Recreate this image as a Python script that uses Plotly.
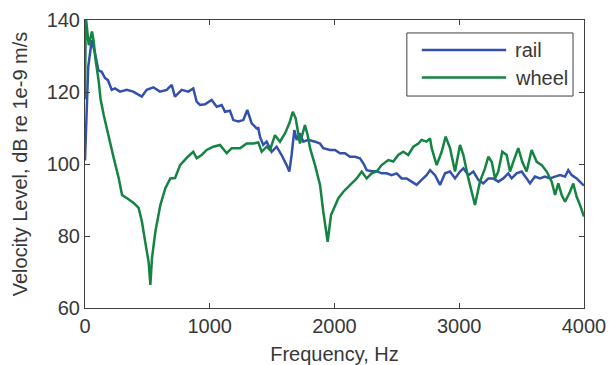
import plotly.graph_objects as go

# ---- data ----
rail_f = [0, 8, 26, 54, 80, 107, 134, 160, 184, 214, 240, 281, 334, 387, 455, 495, 548, 601,
          655, 695, 721, 775, 828, 868, 895, 922, 962, 1015, 1056, 1096, 1122, 1162, 1189,
          1229, 1269, 1301, 1336, 1376, 1389, 1403, 1429, 1456, 1496, 1536, 1576, 1616, 1638,
          1656, 1678, 1697, 1723, 1750, 1790, 1844, 1884, 1910, 1964, 2004, 2044, 2084, 2124,
          2164, 2204, 2231, 2258, 2298, 2338, 2378, 2418, 2458, 2498, 2538, 2578, 2618, 2658,
          2698, 2738, 2766, 2806, 2846, 2886, 2926, 2966, 3006, 3033, 3073, 3113, 3153, 3193,
          3233, 3273, 3313, 3353, 3393, 3420, 3460, 3500, 3540, 3567, 3607, 3647, 3687, 3727,
          3768, 3808, 3848, 3874, 3901, 3941, 3981, 4000]
rail_db = [101, 110, 127, 134.4, 130.8, 126, 125.6, 123.9, 123.3, 120.6, 121, 120.1, 120.6,
           120.1, 118.7, 120.6, 121.3, 120.1, 120.6, 122, 118.7, 120.6, 120.1, 121, 117.3,
           116.4, 116.6, 117.8, 115.9, 116.4, 114.5, 114.8, 112.2, 111.8, 112.2, 115, 111.3,
           109.9, 110, 107.5, 105.3, 106.2, 103.4, 104.8, 102.5, 99.7, 97.9, 102.5, 109.4,
           106.7, 108.5, 106.2, 106.7, 106.2, 105.7, 104.4, 103.9, 103.9, 103, 103, 102, 102,
           101.6, 100.2, 98.3, 98, 98, 97.4, 97.4, 96.9, 97.4, 96, 96, 95.1, 94.2, 95.6, 96.9,
           98.3, 96.9, 94.2, 97.4, 97.9, 96, 97.9, 98.8, 96.9, 97.9, 95.6, 94.6, 96, 96, 95.1,
           96, 97.4, 96, 97.4, 97.9, 96, 94.6, 96.5, 96, 96.5, 96, 96.5, 96.9, 96.5, 98.3,
           96.9, 96, 94.6, 94]

wheel_f = [0, 6, 30, 56, 70, 83, 110, 125, 150, 190, 230, 270, 297, 337, 390, 430, 457, 483,
           510, 524, 537, 564, 604, 644, 684, 722, 762, 815, 868, 895, 935, 975, 1029, 1082,
           1136, 1176, 1243, 1296, 1350, 1389, 1416, 1456, 1483, 1523, 1563, 1603, 1638, 1665,
           1689, 1723, 1763, 1785, 1804, 1844, 1884, 1910, 1945, 1972, 2004, 2031, 2071, 2124,
           2178, 2218, 2258, 2298, 2338, 2378, 2431, 2471, 2511, 2551, 2591, 2632, 2672, 2698,
           2738, 2766, 2779, 2819, 2859, 2891, 2926, 2966, 3006, 3033, 3073, 3126, 3166, 3206,
           3233, 3260, 3287, 3313, 3345, 3380, 3407, 3433, 3473, 3505, 3540, 3580, 3621, 3661,
           3701, 3741, 3768, 3794, 3821, 3848, 3888, 3914, 3941, 3968, 4000]
wheel_db = [118, 141, 133, 136.8, 134, 129.4, 122.9, 118, 113.6, 107.2, 101.7, 96.1, 91.4,
            90.5, 89.2, 87.8, 83.9, 78.3, 72.8, 66.4, 73.9, 81.2, 88.6, 93.3, 96.0, 96.1, 99.7,
            101.7, 103.4, 101.6, 102.5, 103.9, 104.8, 105.3, 103, 104.4, 104.4, 105.7, 105.7,
            106, 103.4, 104.8, 103.9, 108, 106.2, 108.5, 111.3, 114.5, 112.7, 105.7, 110.8,
            108, 104.4, 99.7, 94.2, 86.8, 78.4, 85.8, 88.1, 90.5, 92.3, 94.2, 96, 97.9, 96,
            97.4, 97.9, 99.7, 101.1, 100.7, 102.5, 103.4, 102.5, 104.8, 105.7, 106.7, 106.2,
            107.1, 104.4, 99.7, 103.4, 107.6, 104.4, 97.9, 105.3, 102.5, 96, 88.6, 95.1, 98.8,
            102, 100.6, 96, 97.9, 103.4, 102.5, 97.9, 100.6, 104.4, 100.6, 97.9, 103.9, 100.6,
            99.7, 97.9, 95.1, 91.4, 94.6, 91.4, 89.5, 92.3, 94.6, 90.9, 88.6, 85.4]

series_names = ["rail", "wheel"]
x_ticks = [0, 1000, 2000, 3000, 4000]
y_ticks = [60, 80, 100, 120, 140]

BLUE = "#3350ac"
GREEN = "#138442"
AXIS = "#404040"
TEXT = "#383838"
FONT = "Liberation Sans, Arial, sans-serif"
FS = 20

fig = go.Figure()
fig.add_trace(go.Scatter(x=rail_f, y=rail_db, mode="lines", name=series_names[0],
                         line=dict(color=BLUE, width=2.5), showlegend=False))
fig.add_trace(go.Scatter(x=wheel_f, y=wheel_db, mode="lines", name=series_names[1],
                         line=dict(color=GREEN, width=2.5), showlegend=False))

axis_common = dict(showgrid=False, zeroline=False, showline=True, linecolor=AXIS,
                   linewidth=1, mirror="ticks", ticks="inside", ticklen=5, automargin=False,
                   tickcolor=AXIS, tickfont=dict(size=FS, color=TEXT, family=FONT))
fig.update_xaxes(range=[0, 4000], tickvals=x_ticks, ticktext=[str(v) for v in x_ticks],
                 title=dict(text="Frequency, Hz", font=dict(size=FS, color=TEXT, family=FONT),
                            standoff=10),
                 **axis_common)
fig.update_yaxes(range=[60, 140], tickvals=y_ticks, ticktext=[str(v) for v in y_ticks],
                 title=dict(text="Velocity Level, dB re 1e-9 m/s",
                            font=dict(size=FS, color=TEXT, family=FONT), standoff=13),
                 **axis_common)

# manual legend box (paper coordinates)
shapes = [dict(type="rect", xref="paper", yref="paper", x0=0.645, x1=0.978, y0=0.736, y1=0.955,
               line=dict(color=AXIS, width=1), fillcolor="white", layer="above")]
annotations = []
for name, color, yy in zip(series_names, [BLUE, GREEN], [0.896, 0.800]):
    shapes.append(dict(type="line", xref="paper", yref="paper", x0=0.675, x1=0.844, y0=yy, y1=yy,
                       line=dict(color=color, width=2.5), layer="above"))
    annotations.append(dict(xref="paper", yref="paper", x=0.858, y=yy, text=name, showarrow=False,
                            xanchor="left", yanchor="middle",
                            font=dict(size=FS, color=TEXT, family=FONT)))

fig.update_layout(width=609, height=365, margin=dict(l=85, r=25, t=20, b=57),
                  paper_bgcolor="white", plot_bgcolor="white", shapes=shapes,
                  annotations=annotations, font=dict(family=FONT))

fig.write_html("out.html", config={"displayModeBar": False},
               post_script="document.body.style.margin='0px';document.body.style.overflow='hidden';")
